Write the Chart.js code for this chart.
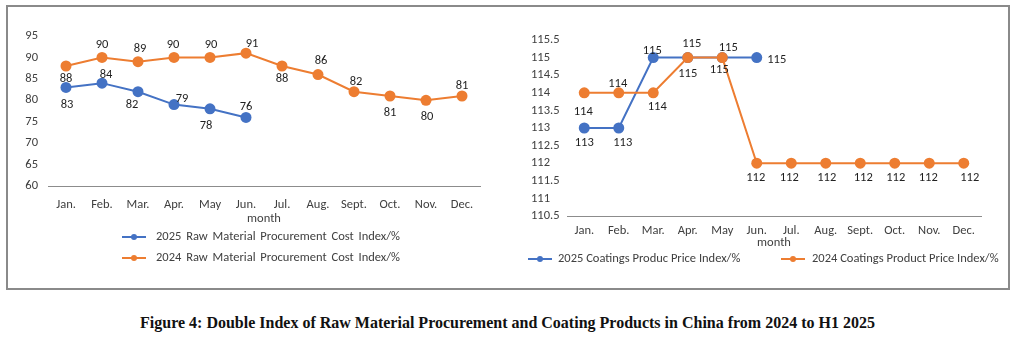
<!DOCTYPE html>
<html>
<head>
<meta charset="utf-8">
<script src="https://cdn.jsdelivr.net/npm/chart.js@4.4.1/dist/chart.umd.min.js"></script>
<style>
  body { margin: 0; background: #fff; width: 1015px; height: 343px; position: relative; overflow: hidden; }
  #frame { position: absolute; left: 6px; top: 5px; width: 1004px; height: 285px; box-sizing: border-box; border: 2px solid #8a8a8a; }
  canvas { position: absolute; top: 10px; }
  #rawChart { left: 10px; }
  #coatChart { left: 505px; }
  #caption { position: absolute; left: 0; top: 314px; width: 1015px; text-align: center;
             font: bold 16px "Liberation Serif", "Times New Roman", serif; color: #111; }
</style>
</head>
<body>
<div id="frame"></div>
<canvas id="rawChart" width="495" height="275"></canvas>
<canvas id="coatChart" width="500" height="275"></canvas>
<div id="caption">Figure 4: Double Index of Raw Material Procurement and Coating Products in China from 2024 to H1 2025</div>
<script>
// months on both x axes
const months = ['Jan.', 'Feb.', 'Mar.', 'Apr.', 'May', 'Jun.', 'Jul.', 'Aug.', 'Sept.', 'Oct.', 'Nov.', 'Dec.'];

// raw material procurement cost index
const rawCost2025 = [83, 84, 82, 79, 78, 76];
const rawCost2024 = [88, 90, 89, 90, 90, 91, 88, 86, 82, 81, 80, 81];

// coatings product price index
const coatPrice2025 = [113, 113, 115, 115, 115, 115];
const coatPrice2024 = [114, 114, 114, 115, 115, 112, 112, 112, 112, 112, 112, 112];

// y axis ranges
const rawAxis = { min: 60, max: 95, step: 5 };
const coatAxis = { min: 110.5, max: 115.5, step: 0.5 };

const BLUE = '#4472c4';
const ORANGE = '#ed7d31';
const TEXT = '#404040';
const LABEL = '#1f1f1f';
const FAMILY = 'Calibri, Carlito, Lato, sans-serif';
const FONT = { family: FAMILY, size: 12.5 };

// where each value label sits relative to its point [dx, dy]
const rawOffsets2025 = [[1, 17], [4, -8], [-6, 13], [8, -6], [-4, 17], [0, -11]];
const rawOffsets2024 = [[0, 13], [0, -13], [2, -13], [-1, -13], [1, -13], [6, -9],
                        [0, 13], [3, -14], [2, -10], [0, 17], [1, 17], [0, -10]];
const coatOffsets2025 = [[0, 15], [4, 15], [-1, -7], [4, -14], [6, -10], [20, 2]];
const coatOffsets2024 = [[-1, 19], [-1, -9], [4, 14], [0, 16], [-3, 12], [-1, 15],
                         [-2, 15], [1, 15], [3, 15], [1, 15], [-1, 15], [6, 15]];

// legend entries: marker start x, centre y, text gap, extra word spacing
const rawLegendSpots = [{ x: 112, y: 227, gap: 34, words: 2 }, { x: 112, y: 248, gap: 34, words: 2 }];
const coatLegendSpots = [{ x: 23, y: 249, gap: 30, words: 0 }, { x: 276, y: 249, gap: 31, words: 0 }];

// value labels next to every point
const pointLabels = {
  id: 'pointLabels',
  afterDatasetsDraw(chart) {
    const ctx = chart.ctx;
    ctx.save();
    ctx.font = FONT.size + 'px ' + FAMILY;
    ctx.fillStyle = LABEL;
    ctx.textAlign = 'center';
    ctx.textBaseline = 'middle';
    chart.data.datasets.forEach((ds, i) => {
      const meta = chart.getDatasetMeta(i);
      meta.data.forEach((pt, j) => {
        const [dx, dy] = ds.labelOffsets[j];
        ctx.fillText(String(ds.data[j]), pt.x + dx, pt.y + dy);
      });
    });
    ctx.restore();
  }
};

// excel-style legend: short line with a dot, then the series name
function lineLegend(spots) {
  return {
    id: 'lineLegend',
    afterDraw(chart) {
      const ctx = chart.ctx;
      ctx.save();
      ctx.font = FONT.size + 'px ' + FAMILY;
      ctx.textAlign = 'left';
      ctx.textBaseline = 'middle';
      chart.data.datasets.forEach((ds, i) => {
        const s = spots[i];
        ctx.strokeStyle = ds.borderColor;
        ctx.lineWidth = 2;
        ctx.beginPath();
        ctx.moveTo(s.x, s.y);
        ctx.lineTo(s.x + 24, s.y);
        ctx.stroke();
        ctx.fillStyle = ds.borderColor;
        ctx.beginPath();
        ctx.arc(s.x + 12, s.y, 3, 0, Math.PI * 2);
        ctx.fill();
        ctx.fillStyle = TEXT;
        ctx.wordSpacing = s.words + 'px';
        ctx.fillText(ds.label, s.x + s.gap, s.y);
        ctx.wordSpacing = '0px';
      });
      ctx.restore();
    }
  };
}

function series(label, data, color, order, offsets) {
  return {
    label, data, order,
    borderColor: color,
    backgroundColor: color,
    pointBackgroundColor: color,
    borderWidth: 2,
    pointRadius: 5.5,
    pointHoverRadius: 5.5,
    pointBorderWidth: 0,
    tension: 0,
    labelOffsets: offsets
  };
}

function buildOptions(axis, box) {
  return {
    responsive: false,
    animation: false,
    events: [],
    layout: { padding: box.padding },
    plugins: { legend: { display: false }, tooltip: { enabled: false } },
    scales: {
      x: {
        offset: true,
        grid: { display: false, drawTicks: false },
        border: { color: '#8c8c8c', width: 1 },
        ticks: { color: TEXT, font: FONT, padding: box.xPad, maxRotation: 0, autoSkip: false },
        title: { display: true, text: 'month', color: TEXT, font: FONT, padding: 0 },
        afterFit: s => { s.height = box.xHeight; }
      },
      y: {
        min: axis.min,
        max: axis.max,
        grid: { display: false, drawTicks: false },
        border: { display: false },
        ticks: {
          stepSize: axis.step,
          autoSkip: false,
          color: TEXT,
          font: FONT,
          padding: 10,
          crossAlign: box.yAlign,
          callback: v => String(v)
        },
        afterFit: s => { s.width = box.yWidth; }
      }
    }
  };
}

new Chart(document.getElementById('rawChart'), {
  type: 'line',
  data: {
    labels: months,
    datasets: [
      series('2025 Raw Material Procurement Cost Index/%', rawCost2025, BLUE, 2, rawOffsets2025),
      series('2024 Raw Material Procurement Cost Index/%', rawCost2024, ORANGE, 1, rawOffsets2024)
    ]
  },
  options: buildOptions(rawAxis, {
    padding: { top: 26, right: 25, bottom: 59, left: 0 },
    xPad: 11, xHeight: 40, yWidth: 38, yAlign: 'near'
  }),
  plugins: [pointLabels, lineLegend(rawLegendSpots)]
});

new Chart(document.getElementById('coatChart'), {
  type: 'line',
  data: {
    labels: months,
    datasets: [
      series('2025 Coatings Produc Price Index/%', coatPrice2025, BLUE, 2, coatOffsets2025),
      series('2024 Coatings Product Price Index/%', coatPrice2024, ORANGE, 1, coatOffsets2024)
    ]
  },
  options: buildOptions(coatAxis, {
    padding: { top: 30, right: 24, bottom: 35, left: 26 },
    xPad: 7, xHeight: 34, yWidth: 36, yAlign: 'far'
  }),
  plugins: [pointLabels, lineLegend(coatLegendSpots)]
});
</script>
</body>
</html>
